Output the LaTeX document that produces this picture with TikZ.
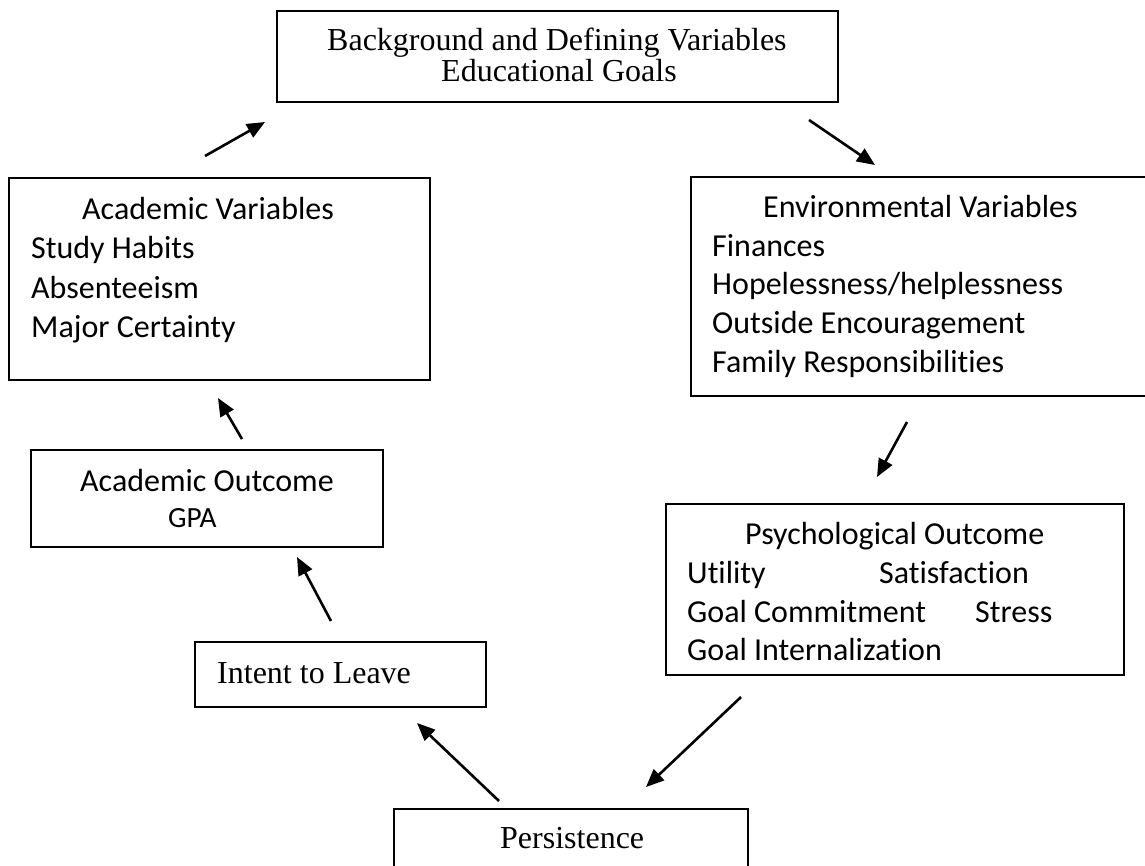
\documentclass[tikz,border=0pt]{standalone}
\usepackage{fontspec}
\setmainfont[Ligatures=NoCommon]{Liberation Serif}
\newfontfamily\calibfont[Ligatures=NoCommon]{Carlito}
\usetikzlibrary{arrows.meta}
\begin{document}
\begin{tikzpicture}[x=1pt,y=-1pt,
  box/.style={draw, line width=2pt, inner sep=0pt, outer sep=0pt, rectangle},
  ser/.style={font=\fontsize{32}{38}\selectfont, inner sep=0pt, anchor=base west},
  sans/.style={font=\calibfont\fontsize{32}{39}\selectfont, inner sep=0pt, anchor=base west},
  sanssmall/.style={font=\calibfont\fontsize{29.3}{36}\selectfont, inner sep=0pt, anchor=base west},
  arr/.style={line width=2.6pt, -{Triangle[length=18pt,width=15pt]}}]
\clip (0,0) rectangle (1145,865);
\fill[white] (0,0) rectangle (1145,865);

% boxes
\node[box, minimum width=561pt, minimum height=91pt]  (top)     at (557.5,56.5) {};
\node[box, minimum width=421pt, minimum height=202pt] (acadvar) at (219.5,279) {};
\node[box, minimum width=469pt, minimum height=219pt] (env)     at (925.5,286.5) {};
\node[box, minimum width=352pt, minimum height=97pt]  (acadout) at (207,498.5) {};
\node[box, minimum width=458pt, minimum height=171pt] (psych)   at (895,589.5) {};
\node[box, minimum width=291pt, minimum height=65pt]  (intent)  at (340.5,674.5) {};
\node[box, minimum width=354pt, minimum height=71pt]  (persist) at (571,844.5) {};

% texts
\node[ser] (t1) at (327,50) {Background and Defining Variables};
\node[ser] (t2) at (441,81) {Educational Goals};

\node[sans] (av0) at (82,219) {Academic Variables};
\node[sans] (av1) at (31,258) {Study Habits};
\node[sans] (av2) at (31,298) {Absenteeism};
\node[sans] (av3) at (31,337) {Major Certainty};

\node[sans] (ev0) at (763,217) {Environmental Variables};
\node[sans] (ev1) at (712,256) {Finances};
\node[sans] (ev2) at (712,294) {Hopelessness/helplessness};
\node[sans] (ev3) at (712,333) {Outside Encouragement};
\node[sans] (ev4) at (712,372) {Family Responsibilities};

\node[sans] (ao0) at (80,491) {Academic Outcome};
\node[sanssmall] (ao1) at (168,527) {GPA};

\node[sans] (po0) at (745,544) {Psychological Outcome};
\node[sans] (po1) at (687,583) {Utility};
\node[sans] (po2) at (879,583) {Satisfaction};
\node[sans] (po3) at (687,622) {Goal Commitment};
\node[sans] (po4) at (975,622) {Stress};
\node[sans] (po5) at (687,660) {Goal Internalization};

\node[ser] (il) at (217,683) {Intent to Leave};
\node[ser] (pe) at (500,848) {Persistence};

% arrow end points
\coordinate (a1s) at (205,156); \coordinate (a1e) at (265,122);
\coordinate (a2s) at (809,120); \coordinate (a2e) at (875,165);
\coordinate (a3s) at (907,422); \coordinate (a3e) at (877,477);
\coordinate (a4s) at (741,697); \coordinate (a4e) at (646,787);
\coordinate (a5s) at (499,801); \coordinate (a5e) at (417,723);
\coordinate (a6s) at (331,621); \coordinate (a6e) at (297,557);
\coordinate (a7s) at (242,439); \coordinate (a7e) at (218,398);

\draw[arr] (a1s) -- (a1e);
\draw[arr] (a2s) -- (a2e);
\draw[arr] (a3s) -- (a3e);
\draw[arr] (a4s) -- (a4e);
\draw[arr] (a5s) -- (a5e);
\draw[arr] (a6s) -- (a6e);
\draw[arr] (a7s) -- (a7e);
\end{tikzpicture}
\end{document}
